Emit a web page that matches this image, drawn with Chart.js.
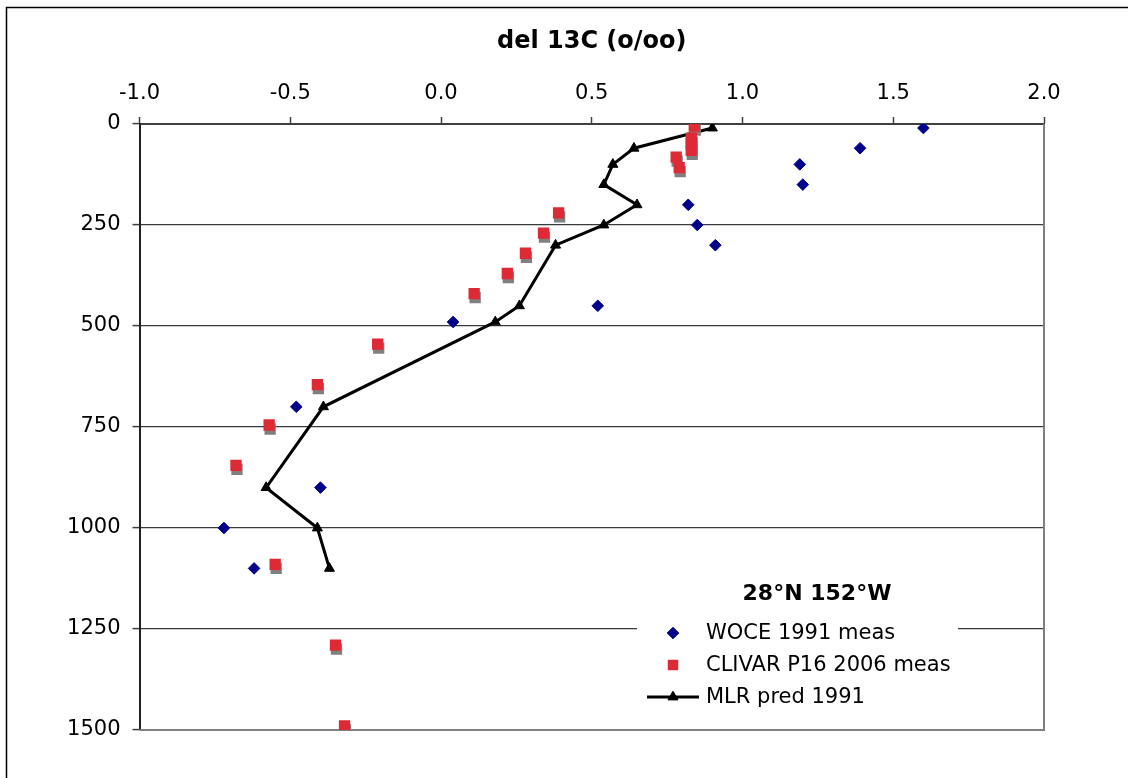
<!DOCTYPE html>
<html>
<head>
<meta charset="utf-8">
<script src="https://cdn.jsdelivr.net/npm/chart.js@4.4.1/dist/chart.umd.min.js"></script>
<style>
  html, body { margin: 0; padding: 0; background: #fff; }
  #wrap { width: 1128px; height: 778px; }
</style>
</head>
<body>
<div id="wrap"><canvas id="c" width="1128" height="778"></canvas></div>
<script>
// ---- data (depth in m, del 13C in per mil) ----
const wDepth = [10, 60, 100, 150, 200, 250, 300, 450, 490, 700, 900, 1000, 1100];
const wValue = [1.60, 1.39, 1.19, 1.20, 0.82, 0.85, 0.91, 0.52, 0.04, -0.48, -0.40, -0.72, -0.62];

const cDepth = [5, 35, 50, 65, 82, 108, 220, 270, 320, 370, 420, 545, 645, 745, 845, 1090, 1290, 1490];
const cValue = [0.84, 0.83, 0.83, 0.83, 0.78, 0.79, 0.39, 0.34, 0.28, 0.22, 0.11, -0.21, -0.41, -0.57, -0.68, -0.55, -0.35, -0.32];

const mDepth = [10, 60, 100, 150, 200, 250, 300, 450, 490, 700, 900, 1000, 1100];
const mValue = [0.90, 0.64, 0.57, 0.54, 0.65, 0.54, 0.38, 0.26, 0.18, -0.39, -0.58, -0.41, -0.37];

const seriesNames = ['WOCE 1991 meas', 'CLIVAR P16 2006 meas', 'MLR pred 1991'];
const legendTitle = '28°N 152°W';
const xTitle = 'del 13C (o/oo)';
const xTickValues = [-1.0, -0.5, 0.0, 0.5, 1.0, 1.5, 2.0];
const xTickLabels = ['-1.0', '-0.5', '0.0', '0.5', '1.0', '1.5', '2.0'];
const yTickValues = [0, 250, 500, 750, 1000, 1250, 1500];
const yTickLabels = ['0', '250', '500', '750', '1000', '1250', '1500'];

const toPts = (xs, ys) => xs.map((v, i) => ({ x: v, y: ys[i] }));

const FONT = '"DejaVu Sans", Verdana, sans-serif';
const NAVY = '#00008B';
const RED = '#DE2A35';

// Outer frame (partially visible border of the chart object) + plot-area border
const framePlugin = {
  id: 'frame',
  beforeDraw(chart) {
    const ctx = chart.ctx;
    ctx.save();
    ctx.fillStyle = '#fff';
    ctx.fillRect(0, 0, chart.width, chart.height);
    ctx.strokeStyle = '#000';
    ctx.lineWidth = 1.5;
    ctx.beginPath();
    ctx.moveTo(6.5, chart.height);
    ctx.lineTo(6.5, 7.5);
    ctx.lineTo(chart.width, 7.5);
    ctx.stroke();
    ctx.restore();
  },
  beforeDatasetsDraw(chart) {
    const ctx = chart.ctx, ca = chart.chartArea;
    ctx.save();
    ctx.strokeStyle = '#808080';
    ctx.lineWidth = 2;
    ctx.beginPath();
    ctx.moveTo(ca.right, ca.top);
    ctx.lineTo(ca.right, ca.bottom);
    ctx.lineTo(ca.left, ca.bottom);
    ctx.stroke();
    ctx.restore();
  }
};

// Gray drop shadow for the CLIVAR squares
const shadowPlugin = {
  id: 'sqShadow',
  beforeDatasetDraw(chart, args) {
    if (args.index === 1) {
      const ctx = chart.ctx;
      ctx.save();
      ctx.shadowColor = '#808080';
      ctx.shadowOffsetX = 1;
      ctx.shadowOffsetY = 4;
      ctx.shadowBlur = 0;
    }
  },
  afterDatasetDraw(chart, args) {
    if (args.index === 1) chart.ctx.restore();
  }
};

// Legend drawn inside the plot area
const legendPlugin = {
  id: 'innerLegend',
  afterDatasetsDraw(chart) {
    const ctx = chart.ctx, ca = chart.chartArea;
    const boxL = ca.right - 407, boxR = ca.right - 86;
    const boxT = ca.bottom - 152, boxB = ca.bottom - 12;
    ctx.save();
    ctx.shadowColor = 'rgba(0,0,0,0)';
    ctx.shadowOffsetX = 0;
    ctx.shadowOffsetY = 0;
    ctx.fillStyle = '#fff';
    ctx.fillRect(boxL, boxT, boxR - boxL, boxB - boxT);
    const mx = ca.right - 371, tx = ca.right - 338;
    ctx.fillStyle = '#000';
    ctx.textBaseline = 'middle';
    ctx.textAlign = 'center';
    ctx.font = 'bold 22px ' + FONT;
    ctx.fillText(legendTitle, ca.right - 227, ca.bottom - 136);
    ctx.font = '21px ' + FONT;
    ctx.textAlign = 'left';
    const rows = [ca.bottom - 97, ca.bottom - 65, ca.bottom - 33];
    chart.data.datasets.forEach((ds, i) => {
      const y = rows[i];
      if (i === 2) {
        ctx.strokeStyle = ds.borderColor;
        ctx.lineWidth = ds.borderWidth;
        ctx.beginPath();
        ctx.moveTo(mx - 26, y);
        ctx.lineTo(mx + 26, y);
        ctx.stroke();
      }
      ctx.fillStyle = ds.pointBackgroundColor;
      ctx.strokeStyle = ds.pointBorderColor;
      ctx.lineWidth = 1;
      Chart.helpers.drawPoint(ctx, {
        pointStyle: ds.pointStyle,
        radius: i === 1 ? 7.4 : ds.pointRadius,
        rotation: 0,
        borderWidth: i === 1 ? 0 : 1
      }, mx, y);
      ctx.fillStyle = '#000';
      ctx.fillText(ds.label, tx, y + 1);
    });
    ctx.restore();
  }
};

new Chart(document.getElementById('c'), {
  type: 'scatter',
  data: {
    datasets: [
      {
        label: seriesNames[0],
        data: toPts(wValue, wDepth),
        pointStyle: 'rectRot',
        pointRadius: 5.8,
        pointBackgroundColor: NAVY,
        pointBorderColor: NAVY,
        pointBorderWidth: 1,
        showLine: false,
        order: 2
      },
      {
        label: seriesNames[1],
        data: toPts(cValue, cDepth),
        pointStyle: 'rect',
        pointRadius: 8,
        pointBackgroundColor: RED,
        pointBorderColor: RED,
        pointBorderWidth: 0,
        showLine: false,
        order: 1
      },
      {
        label: seriesNames[2],
        data: toPts(mValue, mDepth),
        pointStyle: 'triangle',
        pointRadius: 5.8,
        pointBackgroundColor: '#000',
        pointBorderColor: '#000',
        pointBorderWidth: 1,
        borderColor: '#000',
        borderWidth: 3,
        showLine: true,
        tension: 0,
        order: 3
      }
    ]
  },
  options: {
    responsive: false,
    animation: false,
    devicePixelRatio: 1,
    layout: { padding: { left: 0, top: 0, right: 84, bottom: 48 } },
    plugins: {
      legend: { display: false },
      tooltip: { enabled: false },
      title: { display: false }
    },
    scales: {
      x: {
        type: 'linear',
        position: 'top',
        min: -1,
        max: 2,
        afterBuildTicks(scale) { scale.ticks = xTickValues.map(v => ({ value: v })); },
        afterFit(scale) { scale.height = 124; },
        ticks: {
          callback: (v) => xTickLabels[xTickValues.findIndex(t => Math.abs(t - v) < 1e-9)],
          font: { family: FONT, size: 21 },
          color: '#000',
          padding: 11,
          maxRotation: 0
        },
        grid: {
          drawOnChartArea: false,
          drawTicks: true,
          tickLength: 7,
          tickColor: '#404040',
          tickWidth: 1.5
        },
        border: { display: true, color: '#404040', width: 2 },
        title: {
          display: true,
          text: xTitle,
          font: { family: FONT, size: 24, weight: 'bold' },
          color: '#000',
          padding: { top: 27, bottom: 0 }
        }
      },
      y: {
        type: 'linear',
        reverse: true,
        min: 0,
        max: 1500,
        afterBuildTicks(scale) { scale.ticks = yTickValues.map(v => ({ value: v })); },
        afterFit(scale) { scale.width = 139.5; },
        ticks: {
          callback: (v) => yTickLabels[yTickValues.indexOf(v)],
          font: { family: FONT, size: 21 },
          color: '#000',
          padding: 12
        },
        grid: {
          color: (c) => (c.tick && c.tick.value === 1500) ? 'rgba(0,0,0,0)' : '#3a3a3a',
          lineWidth: 1.2,
          tickLength: 7,
          tickColor: '#404040',
          tickWidth: 1.5
        },
        border: { display: true, color: '#202020', width: 2 }
      }
    }
  },
  plugins: [framePlugin, shadowPlugin, legendPlugin]
});
</script>
</body>
</html>
